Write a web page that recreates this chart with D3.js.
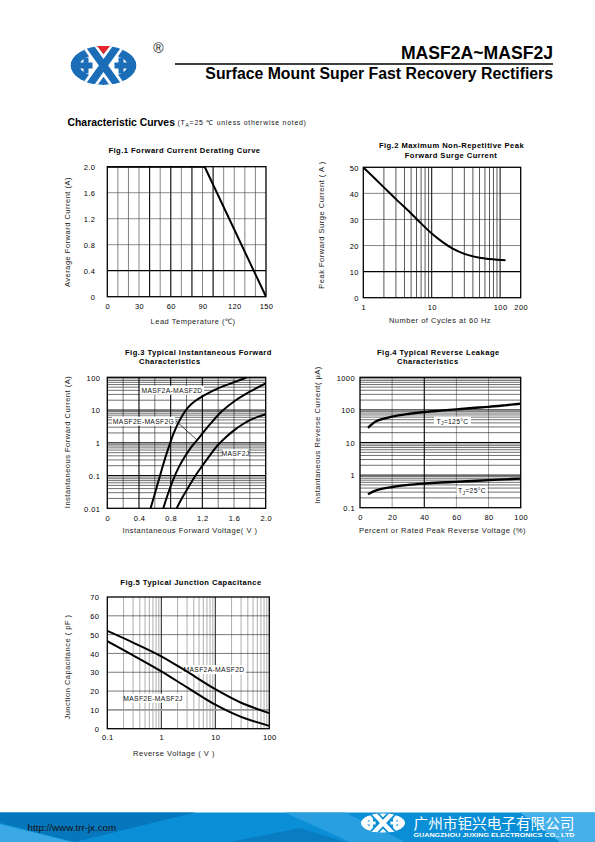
<!DOCTYPE html>
<html><head><meta charset="utf-8">
<script src="https://cdn.jsdelivr.net/npm/d3@7"></script>
<style>body{margin:0;background:#fff}svg{display:block}</style>
</head><body>
<script>
// ---------------- DATA ----------------
// Fig.1 Forward Current Derating Curve
const fig1Temp = [0, 92, 150];
const fig1Current = [2.0, 2.0, 0.0];
const fig1XTicks = [0, 30, 60, 90, 120, 150];
const fig1YTicks = [0, 0.4, 0.8, 1.2, 1.6, 2.0];

// Fig.2 Maximum Non-Repetitive Peak Forward Surge Current
const fig2Cycles = [1, 2, 3, 5, 7, 10, 15, 20, 30, 50, 70, 100, 120];
const fig2Current = [50, 42.3, 37.8, 32.3, 28.5, 24.6, 21, 18.9, 16.8, 15.3, 14.8, 14.5, 14.35];
const fig2XTicks = [1, 10, 100, 200];
const fig2YTicks = [0, 10, 20, 30, 40, 50];

// Fig.3 Typical Instantaneous Forward Characteristics
const fig3VoltAD = [0.547, 0.6, 0.66, 0.72, 0.78, 0.84, 0.9, 0.96, 1.02, 1.1, 1.2, 1.3, 1.4, 1.5, 1.6, 1.7, 1.76];
const fig3CurrAD = [0.01, 0.028, 0.089, 0.28, 0.79, 2.0, 4.2, 7.6, 12, 18.2, 26.3, 35.5, 45.7, 57.5, 70.8, 87, 100];
const fig3VoltEG = [0.707, 0.76, 0.825, 0.9, 0.98, 1.065, 1.15, 1.25, 1.35, 1.45, 1.6, 1.8, 2.0];
const fig3CurrEG = [0.01, 0.025, 0.068, 0.174, 0.38, 0.76, 1.35, 2.7, 5.2, 9.3, 18.2, 36.3, 64.6];
const fig3VoltJ = [0.876, 0.95, 1.0, 1.1, 1.2, 1.3, 1.4, 1.5, 1.6, 1.7, 1.8, 1.9, 2.0];
const fig3CurrJ = [0.01, 0.022, 0.035, 0.089, 0.2, 0.43, 0.87, 1.51, 2.4, 3.55, 4.9, 6.2, 7.4];
const fig3XTicks = [0, 0.4, 0.8, 1.2, 1.6, 2.0];
const fig3YTicks = [0.01, 0.1, 1, 10, 100];

// Fig.4 Typical Reverse Leakage Characteristics
const fig4Percent = [5, 10, 20, 30, 40, 50, 60, 70, 80, 90, 100];
const fig4Hot = [28, 45, 62, 75, 86, 95, 104, 114, 124, 138, 155];
const fig4Room = [0.26, 0.34, 0.43, 0.5, 0.55, 0.59, 0.62, 0.66, 0.7, 0.74, 0.78];
const fig4XTicks = [0, 20, 40, 60, 80, 100];
const fig4YTicks = [0.1, 1, 10, 100, 1000];

// Fig.5 Typical Junction Capacitance
const fig5Volt = [0.1, 0.3, 1, 3, 10, 30, 100];
const fig5CapAD = [52, 45.8, 38.5, 30.3, 21, 13.8, 8.3];
const fig5CapEJ = [46.5, 39, 30.5, 22, 12.8, 6.3, 1.5];
const fig5XTicks = [0.1, 1, 10, 100];
const fig5YTicks = [0, 10, 20, 30, 40, 50, 60, 70];

// ---------------- DRAWING ----------------
const F = "'Liberation Sans', Arial, Helvetica, sans-serif";
const svg = d3.select("body").append("svg").attr("width", 595).attr("height", 842);

function txt(g, x, y, s, o = {}) {
  const t = g.append("text").attr("x", x).attr("y", y).text(s)
    .attr("font-family", o.family || F).attr("font-size", o.size || 7)
    .attr("fill", o.fill || "#111");
  if (o.bold) t.attr("font-weight", "bold");
  if (o.anchor) t.attr("text-anchor", o.anchor);
  if (o.ls !== undefined) t.attr("letter-spacing", o.ls);
  if (o.rotate) t.attr("transform", `rotate(-90,${x},${y})`);
  if (o.len) t.attr("textLength", o.len).attr("lengthAdjust", "spacingAndGlyphs");
  return t;
}

function logo(parent, cx, cy, sx, sy, fg, bg, red, id) {
  const g = parent.append("g").attr("transform", `translate(${cx},${cy}) scale(${sx},${sy})`);
  const RX = 33, RY = 19.5;
  g.append("clipPath").attr("id", id).append("ellipse").attr("rx", RX).attr("ry", RY);
  const c = g.append("g").attr("clip-path", `url(#${id})`);
  c.append("ellipse").attr("rx", RX).attr("ry", RY).attr("fill", fg);
  c.append("ellipse").attr("rx", 24).attr("ry", 11.5).attr("fill", bg);
  const arms = [[-15, -21, 15, 21], [15, -21, -15, 21]];
  arms.forEach(a => c.append("line").attr("x1", a[0]).attr("y1", a[1]).attr("x2", a[2]).attr("y2", a[3])
    .attr("stroke", bg).attr("stroke-width", 13));
  arms.forEach(a => c.append("line").attr("x1", a[0]).attr("y1", a[1]).attr("x2", a[2]).attr("y2", a[3])
    .attr("stroke", fg).attr("stroke-width", 7.5));
  [-1, 1].forEach(s => {
    c.append("rect").attr("x", s < 0 ? -25 : 11).attr("y", -3).attr("width", 14).attr("height", 6).attr("fill", fg);
    c.append("rect").attr("x", s < 0 ? -20 : 15).attr("y", -8).attr("width", 5).attr("height", 16).attr("fill", fg);
  });
  if (red) g.append("path").attr("d", "M-6.5,-19.5 L6.5,-19.5 L0,-11.5 Z").attr("fill", "#e4262c");
}

function boxLabel(g, x0, x1, base, parts) {
  g.append("rect").attr("x", x0).attr("y", base - 6.8).attr("width", x1 - x0).attr("height", 9).attr("fill", "#fff");
  const t = g.append("text").attr("x", (x0 + x1) / 2).attr("y", base).attr("text-anchor", "middle")
    .attr("font-family", F).attr("font-size", 6.8).attr("letter-spacing", 0.3).attr("fill", "#111");
  parts.forEach(p => {
    const ts = t.append("tspan").text(p.t);
    if (p.sub) ts.attr("font-size", 5).attr("dy", 1.5);
    if (p.back) ts.attr("dy", -1.5);
  });
  return t;
}

function panel(cfg) {
  const g = svg.append("g");
  const { x, y, box } = cfg;
  g.append("g").selectAll("line").data(cfg.vGrid).join("line")
    .attr("x1", d => x(d)).attr("x2", d => x(d)).attr("y1", box.y0).attr("y2", box.y1)
    .attr("stroke", d => cfg.vStyle(d)[0]).attr("stroke-width", d => cfg.vStyle(d)[1]);
  g.append("g").selectAll("line").data(cfg.hGrid).join("line")
    .attr("y1", d => y(d)).attr("y2", d => y(d)).attr("x1", box.x0).attr("x2", box.x1)
    .attr("stroke", d => cfg.hStyle(d)[0]).attr("stroke-width", d => cfg.hStyle(d)[1]);
  g.append("rect").attr("x", box.x0).attr("y", box.y0).attr("width", box.x1 - box.x0)
    .attr("height", box.y1 - box.y0).attr("fill", "none").attr("stroke", "#000").attr("stroke-width", 1.3);

  const ax = g.append("g").attr("transform", `translate(0,${box.y1})`)
    .call(d3.axisBottom(x).tickValues(cfg.xTicks).tickFormat(cfg.xFmt).tickSize(0));
  ax.select(".domain").remove();
  ax.selectAll("text").attr("y", cfg.xLabOff).attr("dy", null)
    .attr("font-family", F).attr("font-size", 7.5).attr("letter-spacing", 0.4).attr("fill", "#000");
  const ay = g.append("g").attr("transform", `translate(${box.x0},0)`)
    .call(d3.axisLeft(y).tickValues(cfg.yTicks).tickFormat(cfg.yFmt).tickSize(0));
  ay.select(".domain").remove();
  ay.selectAll("text").attr("x", -cfg.yLabGap).attr("dy", "0.36em")
    .attr("font-family", F).attr("font-size", 7.5).attr("letter-spacing", 0.4).attr("fill", "#000");

  if (cfg.labels) cfg.labels(g);

  const cl = "clip" + cfg.id;
  g.append("clipPath").attr("id", cl).append("rect").attr("x", box.x0).attr("y", box.y0)
    .attr("width", box.x1 - box.x0).attr("height", box.y1 - box.y0);
  cfg.series.forEach(s => {
    const line = d3.line().x(d => x(d[0])).y(d => y(d[1])).curve(s.curve || d3.curveCatmullRom.alpha(0.5));
    g.append("path").attr("d", line(d3.zip(s.xs, s.ys))).attr("fill", "none")
      .attr("stroke", "#000").attr("stroke-width", s.w || 2).attr("stroke-linejoin", "round")
      .attr("clip-path", `url(#${cl})`);
  });
  return g;
}

// ---------- Header ----------
logo(svg, 103.5, 65.5, 1, 1, "#1b6db8", "#fff", true, "lg1");
txt(svg, 158.5, 53, "®", { size: 14, fill: "#222", anchor: "middle" });
txt(svg, 553, 58.5, "MASF2A~MASF2J", { size: 17.6, bold: true, anchor: "end", fill: "#000" });
svg.append("line").attr("x1", 175).attr("x2", 553).attr("y1", 64).attr("y2", 64).attr("stroke", "#000").attr("stroke-width", 1.4);
txt(svg, 553, 79.3, "Surface Mount Super Fast Recovery Rectifiers", { size: 15.8, bold: true, anchor: "end", fill: "#000" });

txt(svg, 67.5, 126, "Characteristic Curves", { size: 10.4, bold: true, fill: "#000" });
{
  const t = svg.append("text").attr("x", 177.5).attr("y", 125).attr("font-family", F)
    .attr("font-size", 6.9).attr("letter-spacing", 0.75).attr("fill", "#111");
  t.append("tspan").text("(T");
  t.append("tspan").text("A").attr("font-size", 5).attr("dy", 1.5);
  t.append("tspan").text("=25 ℃ unless otherwise noted)").attr("dy", -1.5);
}

// ---------- Fig 1 ----------
{
  const box = { x0: 107.3, x1: 266, y0: 166.7, y1: 296.7 };
  const x = d3.scaleLinear().domain([0, 150]).range([box.x0, box.x1]);
  const y = d3.scaleLinear().domain([0, 2]).range([box.y1, box.y0]);
  const g = panel({
    id: 1, box, x, y,
    vGrid: d3.range(10, 150, 10), vStyle: d => [40, 60, 80, 100].includes(d) ? ["#000", 1.1] : ["#333", 0.6],
    hGrid: fig1YTicks.slice(1, -1), hStyle: d => d === 0.4 ? ["#000", 1.2] : ["#444", 0.6],
    xTicks: fig1XTicks, xFmt: d => d, yTicks: fig1YTicks, yFmt: d => d === 0 ? "0" : d.toFixed(1),
    xLabOff: 12.2, yLabGap: 12,
    series: [{ xs: fig1Temp, ys: fig1Current, curve: d3.curveLinear, w: 2 }]
  });
  txt(g, 184.5, 152.5, "Fig.1 Forward Current Derating Curve", { size: 7.6, bold: true, anchor: "middle", ls: 0.45, fill: "#000" });
  txt(g, 69.5, 232, "Average Forward Current (A)", { size: 7.5, anchor: "middle", rotate: true, ls: 0.5, fill: "#222" });
  txt(g, 193, 324.3, "Lead Temperature (℃)", { size: 7.5, anchor: "middle", ls: 0.5, fill: "#222" });
}

// ---------- Fig 2 ----------
{
  const box = { x0: 363.3, x1: 520.7, y0: 167.3, y1: 297.7 };
  const x = d3.scaleLog().domain([1, 200]).range([box.x0, box.x1]);
  const y = d3.scaleLinear().domain([0, 50]).range([box.y1, box.y0]);
  const g = panel({
    id: 2, box, x, y,
    vGrid: x.ticks().filter(d => d > 1 && d < 200), vStyle: d => (d === 10 || d === 100) ? ["#000", 1.0] : ["#111", 0.7],
    hGrid: fig2YTicks.slice(1, -1), hStyle: d => d === 10 ? ["#000", 1.4] : ["#333", 0.6],
    xTicks: fig2XTicks, xFmt: d => d, yTicks: fig2YTicks, yFmt: d => d,
    xLabOff: 12, yLabGap: 4.5,
    series: [{ xs: fig2Cycles, ys: fig2Current, w: 2 }]
  });
  txt(g, 451.5, 148.3, "Fig.2 Maximum Non-Repetitive Peak", { size: 7.6, bold: true, anchor: "middle", ls: 0.45, fill: "#000" });
  txt(g, 451, 158.3, "Forward Surge Current", { size: 7.6, bold: true, anchor: "middle", ls: 0.45, fill: "#000" });
  txt(g, 324, 225, "Peak Forward Surge Current ( A )", { size: 7.5, anchor: "middle", rotate: true, ls: 0.5, fill: "#222" });
  txt(g, 440, 323, "Number of Cycles at 60 Hz", { size: 7.5, anchor: "middle", ls: 0.5, fill: "#222" });
}

// ---------- Fig 3 ----------
{
  const box = { x0: 107.3, x1: 265.7, y0: 377.3, y1: 508.3 };
  const x = d3.scaleLinear().domain([0, 2]).range([box.x0, box.x1]);
  const y = d3.scaleLog().domain([0.01, 100]).range([box.y1, box.y0]);
  const vg = d3.range(1, 10).map(i => +(i * 0.2).toFixed(1));
  const g = panel({
    id: 3, box, x, y,
    vGrid: vg, vStyle: d => [0.4, 0.8, 1.2].includes(d) ? ["#000", 1.1] : ["#222", 0.6],
    hGrid: y.ticks().filter(d => d > 0.0100001 && d < 99.999),
    hStyle: d => fig3YTicks.some(t => Math.abs(t - d) / t < 1e-6) ? ["#000", 1.0] : ["#111", 0.6],
    xTicks: fig3XTicks, xFmt: d => d === 0 ? "0" : d.toFixed(1), yTicks: fig3YTicks, yFmt: d => String(d),
    xLabOff: 12.7, yLabGap: 7,
    labels: g => {
      boxLabel(g, 140, 204, 392.5, [{ t: "MASF2A-MASF2D" }]);
      boxLabel(g, 112, 175, 423.5, [{ t: "MASF2E-MASF2G" }]);
      g.append("line").attr("x1", 176).attr("y1", 421).attr("x2", 197).attr("y2", 440).attr("stroke", "#000").attr("stroke-width", 0.7);
      boxLabel(g, 222.5, 248.5, 456, [{ t: "MASF2J" }]);
    },
    series: [
      { xs: fig3VoltAD, ys: fig3CurrAD, w: 2 },
      { xs: fig3VoltEG, ys: fig3CurrEG, w: 2 },
      { xs: fig3VoltJ, ys: fig3CurrJ, w: 2 }
    ]
  });
  txt(g, 125, 355.3, "Fig.3 Typical Instantaneous Forward", { size: 7.6, bold: true, ls: 0.45, fill: "#000" });
  txt(g, 139, 364.3, "Characteristics", { size: 7.6, bold: true, ls: 0.45, fill: "#000" });
  txt(g, 70, 442, "Instantaneous Forward Current (A)", { size: 7.5, anchor: "middle", rotate: true, ls: 0.5, fill: "#222" });
  txt(g, 190, 533, "Instantaneous Forward Voltage( V )", { size: 7.5, anchor: "middle", ls: 0.5, fill: "#222" });
}

// ---------- Fig 4 ----------
{
  const box = { x0: 360, x1: 520.7, y0: 377.3, y1: 507.7 };
  const x = d3.scaleLinear().domain([0, 100]).range([box.x0, box.x1]);
  const y = d3.scaleLog().domain([0.1, 1000]).range([box.y1, box.y0]);
  const g = panel({
    id: 4, box, x, y,
    vGrid: fig4XTicks.slice(1, -1), vStyle: d => d === 40 ? ["#000", 1.1] : ["#888", 0.8],
    hGrid: y.ticks().filter(d => d > 0.100001 && d < 999.99),
    hStyle: d => fig4YTicks.some(t => Math.abs(t - d) / t < 1e-6) ? ["#000", 1.0] : ["#111", 0.6],
    xTicks: fig4XTicks, xFmt: d => d, yTicks: fig4YTicks, yFmt: d => String(d),
    xLabOff: 12.8, yLabGap: 5,
    labels: g => {
      boxLabel(g, 434, 471, 423.5, [{ t: "T" }, { t: "J", sub: true }, { t: "=125°C", back: true }]);
      boxLabel(g, 456.5, 487.5, 493.2, [{ t: "T" }, { t: "J", sub: true }, { t: "=25°C", back: true }]);
    },
    series: [
      { xs: fig4Percent, ys: fig4Hot, w: 2.4 },
      { xs: fig4Percent, ys: fig4Room, w: 2.4 }
    ]
  });
  txt(g, 377, 355.3, "Fig.4 Typical Reverse Leakage", { size: 7.6, bold: true, ls: 0.45, fill: "#000" });
  txt(g, 397, 364.3, "Characteristics", { size: 7.6, bold: true, ls: 0.45, fill: "#000" });
  txt(g, 320, 435, "Instantaneous Reverse Current( μA)", { size: 7.5, anchor: "middle", rotate: true, ls: 0.5, fill: "#222" });
  txt(g, 442.5, 533, "Percent or Rated Peak Reverse Voltage (%)", { size: 7.5, anchor: "middle", ls: 0.5, fill: "#222" });
}

// ---------- Fig 5 ----------
{
  const box = { x0: 107.3, x1: 269.3, y0: 597, y1: 728.7 };
  const x = d3.scaleLog().domain([0.1, 100]).range([box.x0, box.x1]);
  const y = d3.scaleLinear().domain([0, 70]).range([box.y1, box.y0]);
  const g = panel({
    id: 5, box, x, y,
    vGrid: x.ticks().filter(d => d > 0.1000001 && d < 99.999),
    vStyle: d => fig5XTicks.some(t => Math.abs(t - d) / t < 1e-6) ? ["#000", 0.9] : ["#999", 0.8],
    hGrid: fig5YTicks.slice(1, -1), hStyle: d => d === 10 ? ["#999", 1.6] : ["#222", 0.6],
    xTicks: fig5XTicks, xFmt: d => String(d), yTicks: fig5YTicks, yFmt: d => d,
    xLabOff: 11.5, yLabGap: 8,
    labels: g => {
      boxLabel(g, 182, 246, 672, [{ t: "MASF2A-MASF2D" }]);
      boxLabel(g, 125, 181, 700.5, [{ t: "MASF2E-MASF2J" }]);
    },
    series: [
      { xs: fig5Volt, ys: fig5CapAD, w: 2 },
      { xs: fig5Volt, ys: fig5CapEJ, w: 2 }
    ]
  });
  txt(g, 191, 584.5, "Fig.5 Typical Junction Capacitance", { size: 7.6, bold: true, anchor: "middle", ls: 0.45, fill: "#000" });
  txt(g, 70, 667, "Junction Capacitance ( pF )", { size: 7.5, anchor: "middle", rotate: true, ls: 0.5, fill: "#222" });
  txt(g, 174, 756, "Reverse Voltage ( V )", { size: 7.5, anchor: "middle", ls: 0.5, fill: "#222" });
}

// ---------- Footer ----------
{
  const f = svg.append("g");
  f.append("rect").attr("x", 0).attr("y", 812.5).attr("width", 595).attr("height", 29.5).attr("fill", "#0a8fd6");
  f.append("polygon").attr("points", "0,812.5 195,812.5 75,842 0,823").attr("fill", "#0677bd");
  f.append("polygon").attr("points", "0,824 0,842 72,842").attr("fill", "#3aa8e5");
  f.append("polygon").attr("points", "230,842 300,828 345,842").attr("fill", "#0a7cc2");
  f.append("polygon").attr("points", "285,812.5 345,812.5 405,842 350,842").attr("fill", "#2a9fe0");
  f.append("polygon").attr("points", "520,812.5 595,812.5 595,842 560,842").attr("fill", "#45b0e9");
  txt(f, 27.5, 830.5, "http://www.trr-jx.com", { size: 9.8, fill: "#111" });
  logo(f, 383, 823, 0.67, 0.5, "#fff", "#0a8fd6", false, "lg2");
  txt(f, 413.5, 828.5, "广州市钜兴电子有限公司", { size: 14.6, fill: "#fff", family: "'Noto Sans CJK SC', sans-serif", len: 161 });
  txt(f, 413.5, 837.3, "GUANGZHOU JUXING ELECTRONICS CO., LTD", { size: 5.6, bold: true, fill: "#fff", len: 161 });
}
</script>
</body></html>
